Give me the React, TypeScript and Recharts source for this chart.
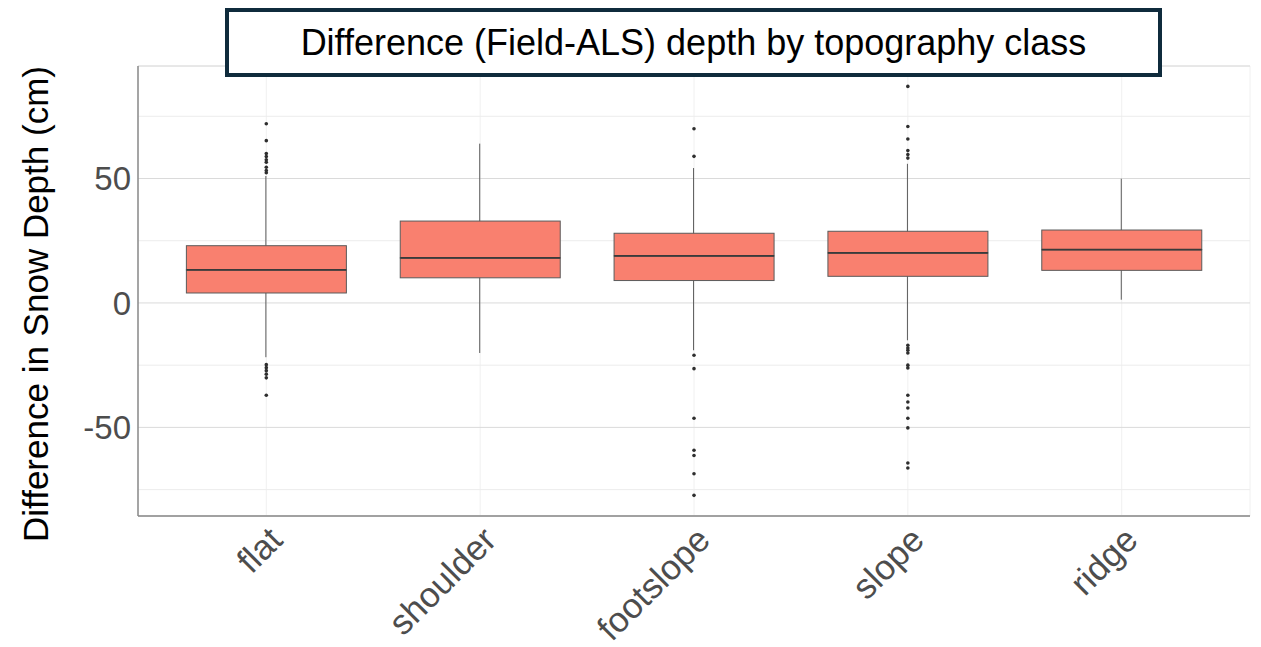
import React from 'react';
import {
  ComposedChart,
  Bar,
  Scatter,
  XAxis,
  YAxis,
  CartesianGrid,
} from 'recharts';

// ---- data ----
const categories = ['flat', 'shoulder', 'footslope', 'slope', 'ridge'];
const q1 = [4.0, 10.1, 9.0, 10.7, 13.1];
const medians = [13.3, 18.1, 18.9, 20.1, 21.4];
const q3 = [23.0, 32.9, 28.0, 28.8, 29.3];
const whiskerLow = [-21.8, -20.1, -19.0, -15.0, 1.3];
const whiskerHigh = [51.0, 64.0, 54.2, 55.9, 49.9];

const flatOutliers = [72.0, 65.2, 60.0, 58.8, 57.5, 56.5, 54.5, 53.2, 52.3, -24.8, -26.0, -27.2, -28.6, -30.1, -37.1];
const shoulderOutliers: number[] = [];
const footslopeOutliers = [70.0, 58.9, -21.0, -26.4, -46.3, -59.2, -61.3, -68.6, -77.3];
const slopeOutliers = [87.0, 70.9, 65.9, 61.2, 59.6, 58.2, -17.0, -18.1, -19.0, -20.1, -25.0, -26.1, -37.1, -39.8, -42.2, -46.3, -50.2, -64.3, -66.3];
const ridgeOutliers: number[] = [];

const yTicks = [-50, 0, 50];
const yMinorTicks = [-75, -25, 25, 75];
const yDomain = [-85.6, 95.2];
const xDomain = [-0.6, 4.6];
const xTicks = [0, 1, 2, 3, 4];

const title = 'Difference (Field-ALS) depth by topography class';
const yLabel = 'Difference in Snow Depth (cm)';

// ---- derived tables ----
const rows = categories.map((c, i) => ({
  pos: i,
  name: c,
  base: q1[i],
  lower: medians[i] - q1[i],
  upper: q3[i] - medians[i],
  whisker: [whiskerLow[i], whiskerHigh[i]],
}));

const outlierLists = [flatOutliers, shoulderOutliers, footslopeOutliers, slopeOutliers, ridgeOutliers];
const outliers = outlierLists.flatMap((list, i) => list.map((v) => ({ pos: i, value: v })));

const FONT = '"Liberation Sans", Arial, Helvetica, sans-serif';
const BOX_FILL = '#F9806F';
const BOX_STROKE = '#5a5a5a';

const LowerShape = (props: any) => {
  const { x, y, width, height } = props;
  return <rect x={x} y={y} width={width} height={height} fill={BOX_FILL} stroke={BOX_STROKE} strokeWidth={1} />;
};

const UpperShape = (props: any) => {
  const { x, y, width, height } = props;
  return (
    <g>
      <rect x={x} y={y} width={width} height={height} fill={BOX_FILL} stroke={BOX_STROKE} strokeWidth={1} />
      <line x1={x} x2={x + width} y1={y + height} y2={y + height} stroke="#3a3a3a" strokeWidth={1.8} />
    </g>
  );
};

const WhiskerShape = (props: any) => {
  const { x, y, width, height } = props;
  const cx = x + width / 2;
  return <line x1={cx} x2={cx} y1={y} y2={y + height} stroke="#5a5a5a" strokeWidth={1} />;
};

const OutlierShape = (props: any) => {
  const { cx, cy } = props;
  return <circle cx={cx} cy={cy} r={1.8} fill="#2e2e2e" />;
};

const XTick = (props: any) => {
  const { x, y, payload } = props;
  return (
    <text
      transform={`translate(${x},${y + 6}) rotate(-45)`}
      textAnchor="end"
      dominantBaseline="hanging"
      fontSize={35}
      fontFamily={FONT}
      fill="#4d4d4d"
    >
      {categories[payload.value]}
    </text>
  );
};

export default function App() {
  return (
    <div style={{ position: 'absolute', left: 0, top: 0, width: 1261, height: 647, background: '#fff', overflow: 'hidden' }}>
      <ComposedChart
        width={1261}
        height={647}
        data={rows}
        margin={{ top: 66, right: 11, bottom: 0, left: 0 }}
      >
        <CartesianGrid yAxisId={0} xAxisId="main" horizontal={false} vertical={true} stroke="#f0f0f0" strokeWidth={1} />
        <CartesianGrid yAxisId="minor" xAxisId="main" horizontal={true} vertical={false} stroke="#ececec" strokeWidth={1} />
        <CartesianGrid yAxisId={0} xAxisId="main" horizontal={true} vertical={false} stroke="#dadada" strokeWidth={1} />
        <XAxis
          xAxisId="main"
          type="number"
          dataKey="pos"
          domain={xDomain}
          allowDataOverflow
          ticks={xTicks}
          tick={<XTick />}
          tickLine={false}
          tickSize={0}
          height={131}
          axisLine={{ stroke: '#8a8a8a', strokeWidth: 1.5 }}
          interval={0}
        />
        <XAxis xAxisId="w" type="number" dataKey="pos" domain={xDomain} allowDataOverflow hide />
        <YAxis
          yAxisId={0}
          type="number"
          domain={yDomain}
          allowDataOverflow
          ticks={yTicks}
          width={138}
          tickLine={false}
          tickSize={0}
          tickMargin={7}
          axisLine={{ stroke: '#8a8a8a', strokeWidth: 1.5 }}
          tick={{ fontSize: 33, fontFamily: FONT, fill: '#4d4d4d' }}
          interval={0}
        />
        <YAxis yAxisId="minor" type="number" domain={yDomain} allowDataOverflow ticks={yMinorTicks} hide />
        <Bar xAxisId="w" yAxisId={0} dataKey="whisker" barSize={1} shape={<WhiskerShape />} isAnimationActive={false} />
        <Bar xAxisId="main" yAxisId={0} dataKey="base" stackId="box" barSize={160} fill="transparent" isAnimationActive={false} />
        <Bar xAxisId="main" yAxisId={0} dataKey="lower" stackId="box" barSize={160} shape={<LowerShape />} isAnimationActive={false} />
        <Bar xAxisId="main" yAxisId={0} dataKey="upper" stackId="box" barSize={160} shape={<UpperShape />} isAnimationActive={false} />
        <Scatter
          xAxisId="main"
          yAxisId={0}
          data={outliers}
          dataKey="value"
          shape={<OutlierShape />}
          isAnimationActive={false}
        />
      </ComposedChart>
      <svg width={90} height={647} style={{ position: 'absolute', left: 0, top: 0 }}>
        <text
          transform="translate(35,304) rotate(-90)"
          textAnchor="middle"
          dominantBaseline="central"
          fontSize={35}
          fontFamily={FONT}
          fill="#000"
        >
          {yLabel}
        </text>
      </svg>
      <div
        style={{
          position: 'absolute',
          left: 225,
          top: 8,
          width: 937,
          height: 69,
          boxSizing: 'border-box',
          border: '4px solid #0f2b3c',
          background: '#fff',
          display: 'flex',
          alignItems: 'center',
          justifyContent: 'center',
          fontFamily: FONT,
          fontSize: 36,
          color: '#000',
          lineHeight: 1,
        }}
      >
        {title}
      </div>
    </div>
  );
}
